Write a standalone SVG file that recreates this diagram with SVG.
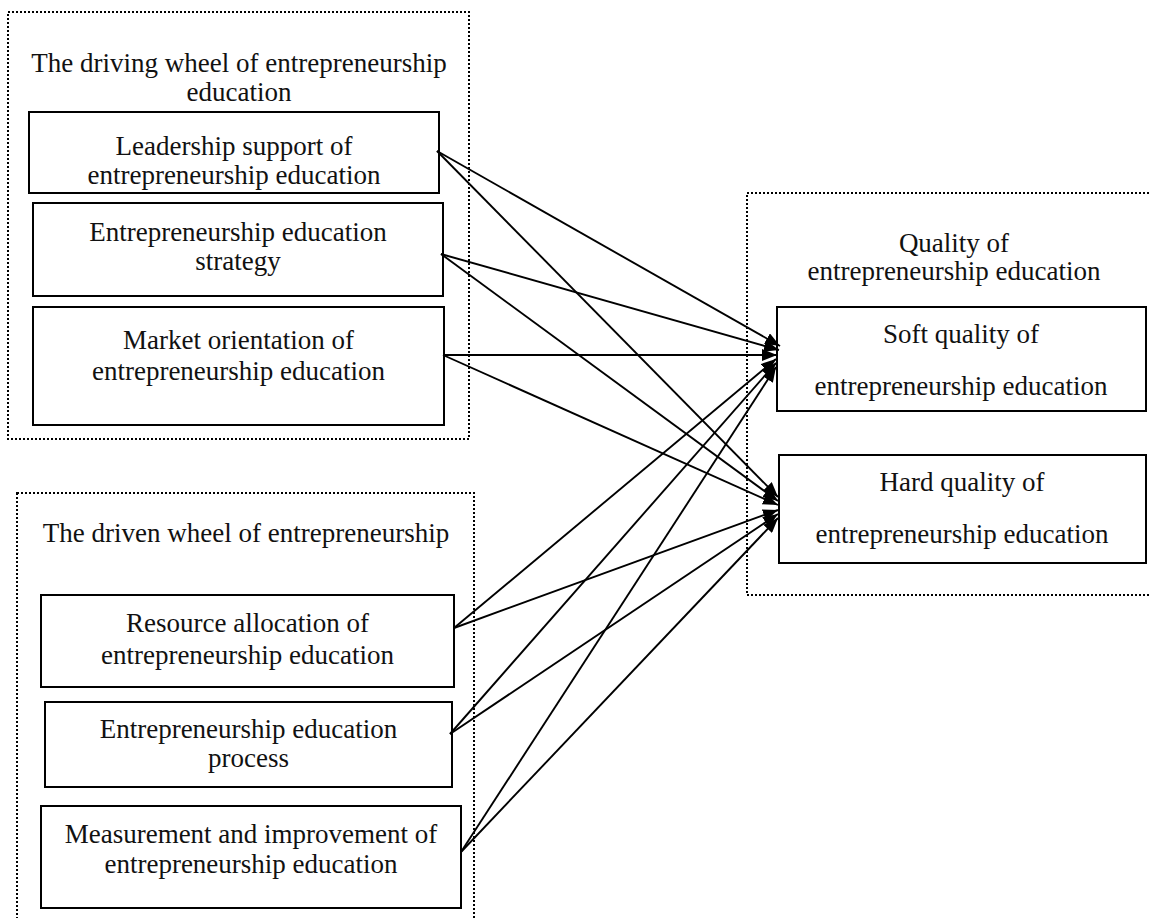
<svg xmlns="http://www.w3.org/2000/svg" width="1150" height="918" viewBox="0 0 1150 918">
<style>
  .bg{fill:#ffffff}
  .group{fill:none;stroke:#000;stroke-width:2;stroke-dasharray:2 2}
  .box{fill:#fff;stroke:#000;stroke-width:2}
  text{font-family:"Liberation Serif","Times New Roman",serif;font-size:27px;fill:#111;text-anchor:middle}
  .conn line{stroke:#000;stroke-width:1.9;marker-end:url(#arr)}
</style>
<defs>
  <marker id="arr" markerUnits="userSpaceOnUse" markerWidth="15" markerHeight="12" refX="15" refY="6" orient="auto">
    <path d="M0,0 L15,6 L0,12 z" fill="#000"/>
  </marker>
  <clipPath id="clip1"><rect x="30" y="113" width="408" height="78"/></clipPath>
</defs>
<rect class="bg" x="0" y="0" width="1150" height="918"/>

<g id="driving-wheel">
  <rect class="group" x="8" y="12" width="461" height="427"/>
  <text x="239" y="72">The driving wheel of entrepreneurship</text>
  <text x="239" y="101">education</text>
</g>
<g id="leadership">
  <rect class="box" x="29" y="112" width="410" height="81"/>
  <g clip-path="url(#clip1)">
    <text x="234" y="155">Leadership support of</text>
    <text x="234" y="184">entrepreneurship education</text>
  </g>
</g>
<g id="strategy">
  <rect class="box" x="33" y="203" width="410" height="93"/>
  <text x="238" y="241">Entrepreneurship education</text>
  <text x="238" y="270">strategy</text>
</g>
<g id="market">
  <rect class="box" x="33" y="307" width="411" height="118"/>
  <text x="238.5" y="349">Market orientation of</text>
  <text x="238.5" y="380">entrepreneurship education</text>
</g>

<g id="driven-wheel">
  <rect class="group" x="17" y="493" width="457" height="440"/>
  <text x="246" y="542">The driven wheel of entrepreneurship</text>
</g>
<g id="resource">
  <rect class="box" x="41" y="595" width="413" height="92"/>
  <text x="247.5" y="632">Resource allocation of</text>
  <text x="247.5" y="664">entrepreneurship education</text>
</g>
<g id="process">
  <rect class="box" x="45" y="702" width="407" height="85"/>
  <text x="248.5" y="738">Entrepreneurship education</text>
  <text x="248.5" y="767">process</text>
</g>
<g id="measurement">
  <rect class="box" x="41" y="806" width="420" height="102"/>
  <text x="251" y="843">Measurement and improvement of</text>
  <text x="251" y="873">entrepreneurship education</text>
</g>

<g id="quality">
  <rect class="group" x="747" y="193" width="420" height="402"/>
  <text x="954" y="252">Quality of</text>
  <text x="954" y="280">entrepreneurship education</text>
</g>
<g id="soft">
  <rect class="box" x="777" y="307" width="369" height="104"/>
  <text x="961" y="343">Soft quality of</text>
  <text x="961" y="395">entrepreneurship education</text>
</g>
<g id="hard">
  <rect class="box" x="779" y="455" width="367" height="108"/>
  <text x="962" y="491">Hard quality of</text>
  <text x="962" y="543">entrepreneurship education</text>
</g>

<g id="connectors" class="conn">
  <line x1="437" y1="151" x2="780" y2="346"/>
  <line x1="437" y1="151" x2="778" y2="497"/>
  <line x1="441" y1="254" x2="779" y2="350"/>
  <line x1="441" y1="254" x2="778" y2="501"/>
  <line x1="443" y1="355" x2="777" y2="355"/>
  <line x1="443" y1="355" x2="778" y2="505"/>
  <line x1="454" y1="628" x2="776" y2="359"/>
  <line x1="454" y1="628" x2="778" y2="510"/>
  <line x1="450" y1="734" x2="776" y2="363"/>
  <line x1="450" y1="734" x2="778" y2="514"/>
  <line x1="461" y1="852" x2="776" y2="367"/>
  <line x1="461" y1="852" x2="778" y2="518"/>
</g>
</svg>
